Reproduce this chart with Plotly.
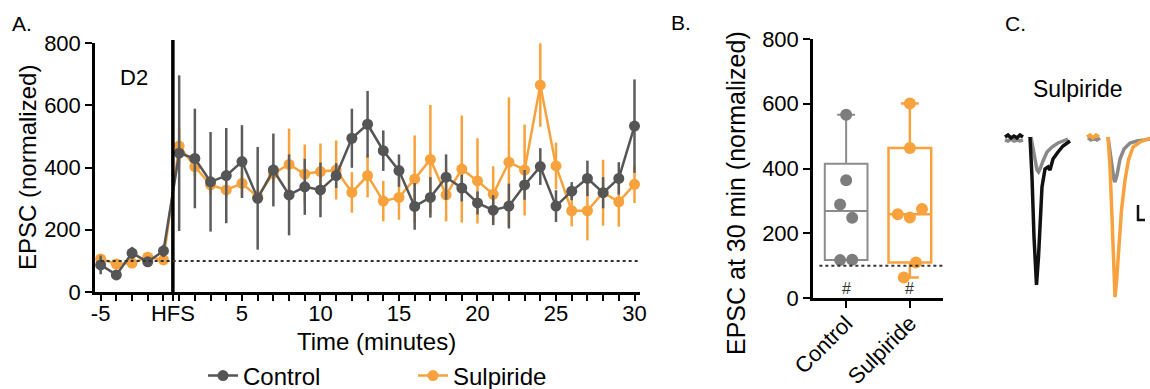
import numpy as np
import plotly.graph_objects as go

# ---------------- data ----------------
pre_time = [-5, -4, -3, -2, -1]
post_time = list(range(1, 31))
label_minutes = [-5, 5, 10, 15, 20, 25, 30]

ctrl_pre = [87, 55, 125, 97, 132]
ctrl_post = [446, 429, 354, 374, 419, 301, 392, 312, 338, 328, 374, 494, 539, 454, 390,
             275, 304, 369, 334, 286, 263, 276, 344, 403, 276, 324, 365, 319, 365, 533]
ctrl_pre_err = [30, 12, 20, 10, 20]
ctrl_post_err = [250, 160, 160, 153, 117, 165, 117, 130, 90, 88, 40, 95, 107, 65, 52,
                 75, 65, 73, 43, 37, 48, 72, 48, 59, 51, 29, 57, 50, 52, 150]

sulp_pre = [106, 90, 93, 112, 103]
sulp_post = [469, 403, 344, 328, 349, 306, 381, 410, 379, 387, 392, 320, 374, 292, 304,
             363, 426, 312, 395, 357, 314, 417, 392, 665, 405, 261, 261, 319, 290, 346]
sulp_pre_err = [15, 10, 10, 12, 10]
sulp_post_err = [60, 30, 30, 25, 40, 20, 30, 115, 95, 90, 95, 65, 70, 65, 72,
                 140, 175, 85, 172, 137, 90, 208, 146, 134, 75, 50, 95, 106, 80, 60]

baseline_level = 100

groups_b = ["Control", "Sulpiride"]
ctrl_30 = [566, 364, 289, 248, 117, 118]
sulp_30 = [601, 463, 259, 249, 275, 63, 110]
sig_marks = ["#", "#"]

# example traces (panel C), time in ms, amplitude arbitrary units
grey_l_t = [5, 8, 11, 14, 17, 20, 23, None, 31, 33, 35, 37, 38.5, 40, 43, 47, 52, 58, 63, 68]
grey_l_v = [-3, -4, -2, -4, -3, -4, -3, None, 0, -12, -26, -33, -35, -32, -24, -15, -10, -6, -4, -2]
black_l_t = [5, 8, 11, 14, 17, 20, 23, None, 30, 32, 34, 36.5, 38.5, 40.5, 42, 45, 48, 50, 53, 58, 63, 70]
black_l_v = [0, 2, -1, 1, -1, 2, 0, None, 0, -40, -100, -148, -120, -80, -50, -32, -30, -33, -22, -15, -9, -4]
grey_r_t = [88, 91, 94, 97, 100, None, 108, 110, 112, 114, 115, 117, 120, 124, 130, 137, 144, 150]
grey_r_v = [-1, -3, -1, -3, -1, None, 0, -15, -32, -43, -45, -38, -22, -12, -6, -4, -3, -2]
orange_r_t = [87, 90, 93, 96, 99, None, 108, 110, 112, 114, 115, 116.5, 118.5, 121.5, 125, 128.5, 133, 140, 150]
orange_r_v = [0, 2, -1, 2, 0, None, 0, -30, -80, -140, -160, -145, -112, -73, -43, -23, -10, -5, -1]
scalebar_t = [138, 138, 145]
scalebar_v = [-68, -83, -83]

# ---------------- styles ----------------
W, H = 1150, 389
FONT = "Liberation Sans, Arial, sans-serif"
C_CTRL = "#555555"
C_CTRL_ERR = "#5c5c5c"
C_SULP = "#F7A23C"
C_BOX_CTRL = "#8c8c8c"
C_PTS_CTRL = "#7d7d7d"
HFS_OFFSET = 0.6  # HFS drawn 0.6 min after last baseline point


def px_x(p):
    return p / W


def px_y(p):
    return 1 - p / H


def pos(t):
    # axis is compressed: no minute 0 between baseline and post-HFS
    return t if t < 0 else t - 1


times = pre_time + post_time
xpos = [pos(t) for t in times]
hfs_x = pos(pre_time[-1]) + HFS_OFFSET

fig = go.Figure()

# ----- Panel A -----
fig.add_trace(go.Scatter(
    x=xpos, y=sulp_pre + sulp_post, name="Sulpiride", mode="lines+markers",
    line=dict(color=C_SULP, width=2.5), marker=dict(color=C_SULP, size=11),
    error_y=dict(type="data", array=sulp_pre_err + sulp_post_err, color=C_SULP,
                 thickness=2.5, width=0),
    xaxis="x", yaxis="y", legendrank=2))
fig.add_trace(go.Scatter(
    x=xpos, y=ctrl_pre + ctrl_post, name="Control", mode="lines+markers",
    line=dict(color=C_CTRL, width=2.5), marker=dict(color=C_CTRL, size=11),
    error_y=dict(type="data", array=ctrl_pre_err + ctrl_post_err, color=C_CTRL_ERR,
                 thickness=2.5, width=0),
    xaxis="x", yaxis="y", legendrank=1))

xa_range = [-5.36, 29.35]
tick_minutes = pre_time + post_time
tickvals = [pos(t) for t in tick_minutes] + [hfs_x]
ticktext = [str(t) if t in label_minutes else "" for t in tick_minutes] + ["HFS"]

# ----- Panel B -----
def weibull_stats(v):
    a = np.asarray(v, dtype=float)
    q1, med, q3 = np.percentile(a, [25, 50, 75], method="weibull")
    return q1, med, q3, a.min(), a.max()


def swarm_offsets(vals, thresh=50, step=0.19):
    order = sorted(range(len(vals)), key=lambda i: vals[i])
    clusters, cur = [], [order[0]]
    for i in order[1:]:
        if vals[i] - vals[cur[-1]] < thresh:
            cur.append(i)
        else:
            clusters.append(cur)
            cur = [i]
    clusters.append(cur)
    off = [0.0] * len(vals)
    for c in clusters:
        c = sorted(c)
        n = len(c)
        for k, i in enumerate(c):
            off[i] = (k - (n - 1) / 2) * step
    return off


for gi, (vals, lc, pc, lw) in enumerate([(ctrl_30, C_BOX_CTRL, C_PTS_CTRL, 2),
                                         (sulp_30, C_SULP, C_SULP, 2.5)]):
    q1, med, q3, lo, hi = weibull_stats(vals)
    fig.add_trace(go.Box(
        x=[gi], q1=[q1], median=[med], q3=[q3], lowerfence=[lo], upperfence=[hi],
        width=0.67, whiskerwidth=0.42, fillcolor="rgba(0,0,0,0)",
        line=dict(color=lc, width=lw), boxpoints=False, showlegend=False,
        xaxis="x2", yaxis="y2", hoverinfo="skip"))
    offs = swarm_offsets(vals)
    fig.add_trace(go.Scatter(
        x=[gi + o for o in offs], y=vals, mode="markers",
        marker=dict(color=pc, size=12), showlegend=False,
        xaxis="x2", yaxis="y2"))

# ----- Panel C -----
for tt, vv, col in [(grey_l_t, grey_l_v, "#8a8a8a"), (black_l_t, black_l_v, "#111111"),
                    (grey_r_t, grey_r_v, "#8a8a8a"), (orange_r_t, orange_r_v, C_SULP)]:
    fig.add_trace(go.Scatter(x=tt, y=vv, mode="lines", line=dict(color=col, width=3.5),
                             connectgaps=False, showlegend=False,
                             xaxis="x3", yaxis="y3", hoverinfo="skip"))
fig.add_trace(go.Scatter(x=scalebar_t, y=scalebar_v, mode="lines",
                         line=dict(color="#111111", width=2.5), showlegend=False,
                         xaxis="x3", yaxis="y3", hoverinfo="skip"))

axis_common = dict(showline=True, linecolor="black", linewidth=2.5, ticks="outside",
                   tickcolor="black", tickwidth=2, showgrid=False, zeroline=False,
                   automargin=False,
                   tickfont=dict(family=FONT, size=22, color="black"))

fig.update_layout(
    width=W, height=H, margin=dict(l=0, r=0, t=0, b=0, autoexpand=False),
    paper_bgcolor="white", plot_bgcolor="white",
    font=dict(family=FONT, color="black"),
    xaxis=dict(domain=[px_x(95), px_x(640)], range=xa_range, anchor="y",
               tickmode="array", tickvals=tickvals, ticktext=ticktext, ticklen=6,
               ticklabelstandoff=-6, **axis_common),
    yaxis=dict(domain=[px_y(292), px_y(43)], range=[0, 800], anchor="x",
               tickvals=[0, 200, 400, 600, 800], ticklen=7, **axis_common),
    xaxis2=dict(domain=[px_x(813), px_x(943)], range=[-0.52, 1.52], anchor="y2",
                tickmode="array", tickvals=[0, 1], ticktext=groups_b, tickangle=-45,
                ticklen=7, ticklabelstandoff=-6, **axis_common),
    yaxis2=dict(domain=[px_y(298), px_y(39)], range=[0, 800], anchor="x2",
                tickvals=[0, 200, 400, 600, 800], ticklen=7, **axis_common),
    xaxis3=dict(domain=[px_x(1000), 1.0], range=[0, 150], visible=False, anchor="y3",
                automargin=False),
    yaxis3=dict(domain=[px_y(310), px_y(100)], range=[-173, 37], visible=False, anchor="x3",
                automargin=False),
    showlegend=True,
    legend=dict(orientation="h", x=px_x(203), y=px_y(376), yanchor="middle",
                xanchor="left", itemwidth=30, entrywidth=165, traceorder="normal",
                font=dict(family=FONT, size=24, color="black"),
                bgcolor="rgba(0,0,0,0)"),
)

shapes = [
    # HFS line
    dict(type="line", xref="x", yref="paper", x0=hfs_x, x1=hfs_x,
         y0=px_y(294), y1=px_y(40), line=dict(color="black", width=3.5)),
    # baseline dotted (A)
    dict(type="line", xref="x", yref="y", x0=pos(pre_time[0]), x1=xa_range[1],
         y0=baseline_level, y1=baseline_level, line=dict(color="#333333", width=2, dash="dot")),
    # baseline dotted (B)
    dict(type="line", xref="x2", yref="y2", x0=-0.42, x1=1.52,
         y0=baseline_level, y1=baseline_level, line=dict(color="#333333", width=2, dash="dot")),
]
fig.update_layout(shapes=shapes)

ann = []
def txt(text, x, y, size, xref="paper", yref="paper", angle=0, xanchor="center", yanchor="middle"):
    ann.append(dict(text=text, x=x, y=y, xref=xref, yref=yref, showarrow=False,
                    textangle=angle, xanchor=xanchor, yanchor=yanchor,
                    font=dict(family=FONT, size=size, color="black")))

txt("A.", px_x(22), px_y(24), 21)
txt("B.", px_x(681), px_y(22), 21)
txt("C.", px_x(1015), px_y(23), 21)
txt("D2", px_x(134), px_y(77), 22)
txt("Sulpiride", px_x(1078), px_y(89), 23)
txt("Time (minutes)", px_x(376), px_y(341), 24)
txt("EPSC (normalized)", px_x(27), px_y(168), 24, angle=-90)
txt("EPSC at 30 min (normalized)", px_x(736), px_y(193), 25, angle=-90)
for gi, m in enumerate(sig_marks):
    ann.append(dict(text=m, x=gi, y=30, xref="x2", yref="y2", showarrow=False,
                    font=dict(family=FONT, size=16, color="#333333")))
fig.update_layout(annotations=ann)

fig.write_html("out.html", config={"displayModeBar": False},
               post_script="document.body.style.margin='0';")
